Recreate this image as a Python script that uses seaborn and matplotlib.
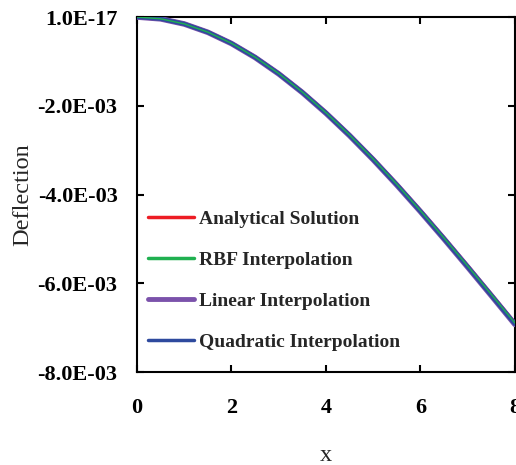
import matplotlib
matplotlib.use('Agg')
import matplotlib.pyplot as plt
from matplotlib.ticker import FuncFormatter
import seaborn as sns

# beam positions and deflections
x = [0, 0.5, 1, 1.5, 2, 2.5, 3, 3.5, 4, 4.5, 5, 5.5, 6, 6.5, 7, 7.5, 8]
analytical = [0, -0.040e-3, -0.155e-3, -0.342e-3, -0.594e-3, -0.907e-3, -1.276e-3, -1.695e-3,
              -2.160e-3, -2.665e-3, -3.206e-3, -3.777e-3, -4.374e-3, -4.991e-3, -5.623e-3,
              -6.265e-3, -6.912e-3]
rbf = [0, -0.040e-3, -0.154e-3, -0.341e-3, -0.592e-3, -0.905e-3, -1.273e-3, -1.692e-3,
       -2.156e-3, -2.660e-3, -3.200e-3, -3.770e-3, -4.366e-3, -4.982e-3, -5.612e-3,
       -6.252e-3, -6.896e-3]
linear = [0, -0.041e-3, -0.157e-3, -0.345e-3, -0.598e-3, -0.912e-3, -1.282e-3, -1.702e-3,
          -2.168e-3, -2.674e-3, -3.216e-3, -3.788e-3, -4.386e-3, -5.004e-3, -5.637e-3,
          -6.280e-3, -6.928e-3]
quadratic = [0, -0.040e-3, -0.156e-3, -0.343e-3, -0.596e-3, -0.909e-3, -1.279e-3, -1.699e-3,
             -2.164e-3, -2.670e-3, -3.211e-3, -3.783e-3, -4.381e-3, -4.999e-3, -5.631e-3,
             -6.274e-3, -6.921e-3]

sns.set_style('ticks')
plt.rcParams['font.family'] = ['Liberation Serif', 'DejaVu Serif']

fig = plt.figure(figsize=(5.16, 4.65), dpi=100)
ax = fig.add_axes([0.2655, 0.2, 0.7325, 0.7634])

# draw order: red under, thin green on top
sns.lineplot(x=x, y=analytical, ax=ax, color='#ed1c24', linewidth=3, label='Analytical Solution', zorder=2)
sns.lineplot(x=x, y=linear, ax=ax, color='#7b52ab', linewidth=4, label='Linear Interpolation', zorder=3)
sns.lineplot(x=x, y=quadratic, ax=ax, color='#2e4a9e', linewidth=3, label='Quadratic Interpolation', zorder=4)
sns.lineplot(x=x, y=rbf, ax=ax, color='#1fb050', linewidth=1.0, label='RBF Interpolation', zorder=5)

ax.set_xlim(0, 8)
ax.set_ylim(-8e-3, 1e-17)
ax.set_xticks([0, 2, 4, 6, 8])
ax.set_yticks([-8e-3, -6e-3, -4e-3, -2e-3, 1e-17])
ax.yaxis.set_major_formatter(FuncFormatter(lambda v, p: f'{v:.1E}'))

for s in ax.spines.values():
    s.set_linewidth(1.5)
    s.set_color('black')
ax.tick_params(direction='in', length=5, width=1.5, top=True, right=True, colors='black')
ax.tick_params(axis='x', pad=19, labelsize=16)
ax.tick_params(axis='y', pad=14, labelsize=16)
for lab in ax.get_xticklabels() + ax.get_yticklabels():
    lab.set_fontweight('bold')

ax.set_xlabel('x', fontsize=17.5, labelpad=19)
ax.set_ylabel('Deflection', fontsize=17.5, labelpad=3)

handles, labels = ax.get_legend_handles_labels()
order = ['Analytical Solution', 'RBF Interpolation', 'Linear Interpolation', 'Quadratic Interpolation']
hmap = dict(zip(labels, handles))
leg = ax.legend([hmap[k] for k in order], order, loc='lower left', bbox_to_anchor=(-0.018, 0.01),
                frameon=False, handlelength=2.4, handletextpad=0.25, labelspacing=1.2,
                prop={'family': 'Liberation Serif', 'weight': 'bold', 'size': 14})
for line in leg.get_lines():
    line.set_linewidth(2.5)
leg.get_lines()[2].set_linewidth(3.5)

fig.savefig('out.png', dpi=100)
